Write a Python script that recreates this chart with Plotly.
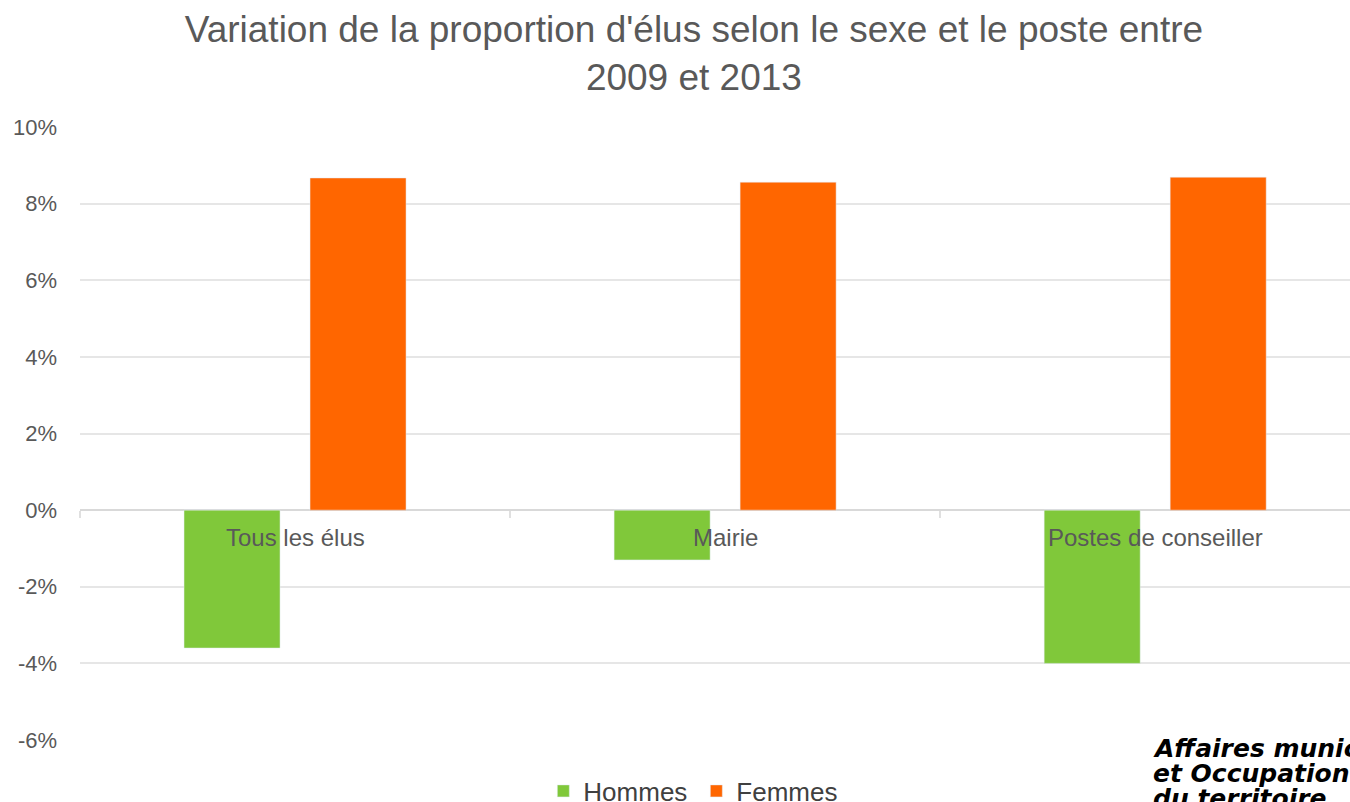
import plotly.graph_objects as go

# Data
categories = ["Tous les élus", "Mairie", "Postes de conseiller"]
hommes = [-0.036, -0.013, -0.040]
femmes = [0.0867, 0.0856, 0.0869]
tick_vals = [-0.06, -0.04, -0.02, 0, 0.02, 0.04, 0.06, 0.08, 0.10]
tick_labels = ["-6%", "-4%", "-2%", "0%", "2%", "4%", "6%", "8%", "10%"]
stamp_lines = ["Affaires municipales", "et Occupation", "du territoire"]

GREY = "#595959"
W, H = 1350, 802
L, T, B = 80, 127, 62
Y_MIN, Y_MAX = -0.06, 0.10

fig = go.Figure()
fig.add_trace(go.Bar(x=categories, y=hommes, name="Hommes", marker_color="#80c83a"))
fig.add_trace(go.Bar(x=categories, y=femmes, name="Femmes", marker_color="#ff6600"))

# category labels sit just under the zero line, inside the plot
for cat in categories:
    fig.add_annotation(
        x=cat, y=0, xref="x", yref="y", text=cat, showarrow=False,
        yanchor="top", yshift=-12, font=dict(size=24, color=GREY),
    )

# stamp from the source document, partly cut off at the right edge
for i, line in enumerate(stamp_lines):
    fig.add_annotation(
        x=(1151 - L) / (W - L), y=(H - B - 748) / (H - T - B), xref="paper", yref="paper",
        yshift=-25 * i, text=f"<b><i>{line}</i></b>",
        showarrow=False, xanchor="left", yanchor="middle", align="left",
        font=dict(family="DejaVu Sans", size=25, color="black"),
    )

fig.update_layout(
    width=W,
    height=H,
    autosize=False,
    margin=dict(l=L, r=0, t=T, b=B, autoexpand=False),
    plot_bgcolor="white",
    paper_bgcolor="white",
    font=dict(family="Liberation Sans, Arial, sans-serif", color=GREY),
    title=dict(
        text="Variation de la proportion d'élus selon le sexe et le poste entre<br>2009 et 2013",
        x=0.514, xanchor="center", yref="container", y=1 - 42 / H, yanchor="middle",
        font=dict(size=37, color=GREY),
    ),
    barmode="group",
    bargap=0.414,
    bargroupgap=0.238,
    showlegend=True,
    legend=dict(
        orientation="h", x=0.4853, xanchor="center", y=(H - B - 791) / (H - T - B), yanchor="middle",
        font=dict(size=26, color="#404040"), itemwidth=30, entrywidth=108,
    ),
)
# category axis crosses at 0%, with small tick marks between categories
fig.update_xaxes(
    range=[-0.5, 2.453], showticklabels=False, showgrid=False, zeroline=False, automargin=False,
    anchor="free", position=(0 - Y_MIN) / (Y_MAX - Y_MIN),
    tickvals=[i - 0.5 for i in range(len(categories) + 1)],
    ticks="outside", ticklen=7, tickwidth=2, tickcolor="#e0e0e0",
)
fig.update_yaxes(
    range=[Y_MIN, Y_MAX], tickvals=tick_vals, ticktext=tick_labels, automargin=False,
    gridcolor="#e6e6e6", gridwidth=2, zeroline=True, zerolinecolor="#d9d9d9", zerolinewidth=2,
    tickfont=dict(size=22, color=GREY), ticklabelstandoff=22,
)

fig.write_html("out.html", config={"displayModeBar": False},
               post_script="document.body.style.margin = '0';")
